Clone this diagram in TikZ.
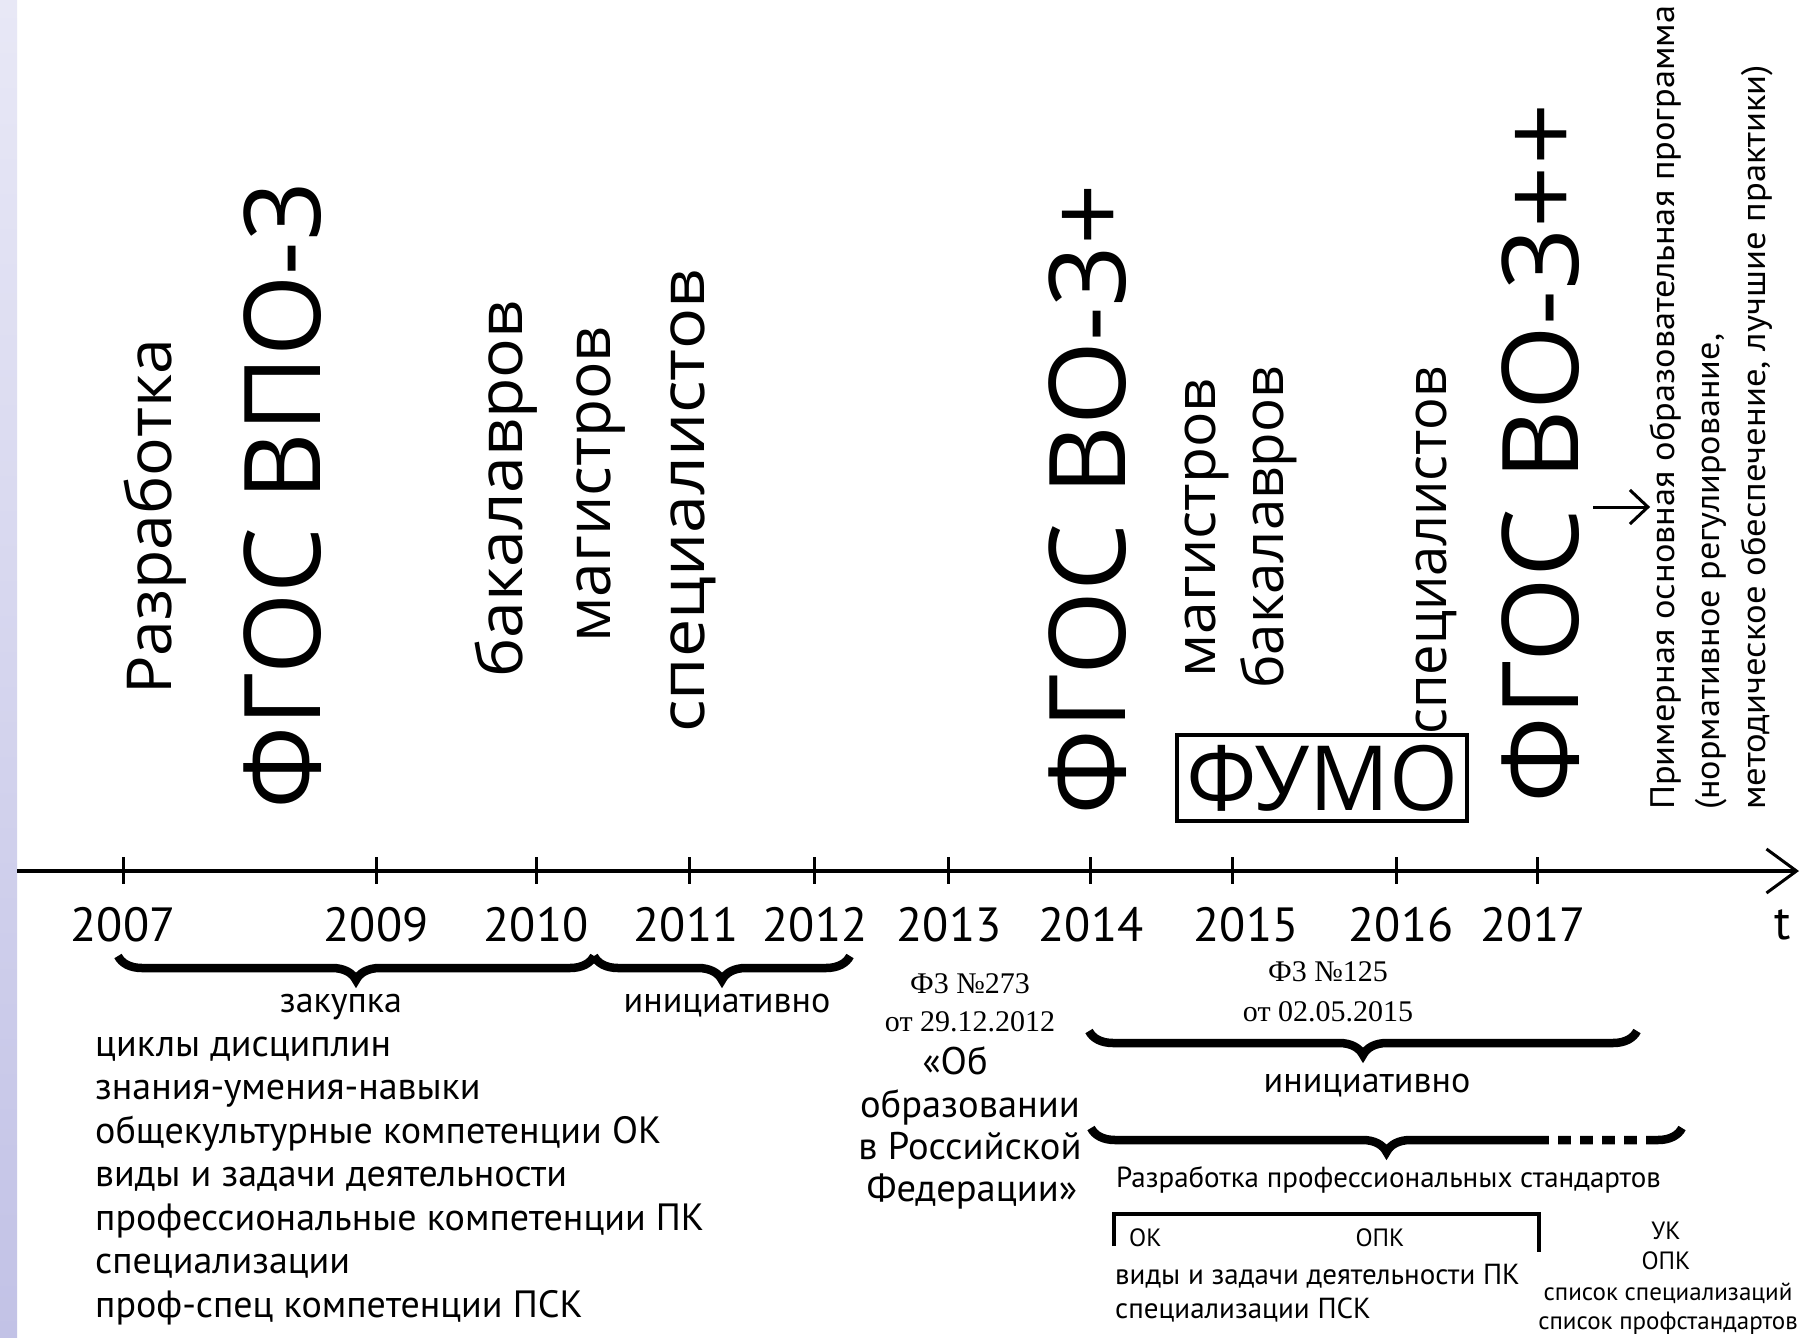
\documentclass[tikz,border=0pt]{standalone}
\usepackage{fontspec}
\usepackage{graphicx}
\setmainfont{Open Sans}
\newfontfamily\pts{PT Sans}
\newfontfamily\tms{Liberation Serif}
\usetikzlibrary{decorations.pathreplacing,arrows.meta}
\definecolor{lavA}{HTML}{E8E8F6}
\definecolor{lavB}{HTML}{C2C2E6}
\newcommand\fitto[2]{\resizebox{#1pt}{\height}{#2}}
\begin{document}
\begin{tikzpicture}[x=1pt,y=-1pt,
  rot/.style={rotate=90,anchor=west,inner sep=0pt},
  bigtxt/.style={rot,font=\fontsize{106}{106}\selectfont},
  midtxt/.style={rot,font=\fontsize{62}{62}\selectfont},
  midtxtr/.style={rot,font=\fontsize{56}{56}\selectfont},
  notetxt/.style={rot,font=\pts\fontsize{34}{34}\selectfont},
  yr/.style={inner sep=0pt,font=\pts\fontsize{48}{48}\selectfont},
  lst/.style={anchor=base west,inner sep=0pt,font=\pts\fontsize{38}{38}\selectfont},
  lbl/.style={inner sep=0pt,anchor=base,font=\pts\fontsize{36}{36}\selectfont},
  fed/.style={inner sep=0pt,anchor=base,font=\pts\fontsize{38.5}{38.5}\selectfont},
  sml/.style={inner sep=0pt,anchor=base,font=\pts\fontsize{29}{29}\selectfont},
  tiny/.style={inner sep=0pt,anchor=base,font=\pts\fontsize{25}{25}\selectfont},
  law/.style={inner sep=0pt,anchor=base,font=\tms\fontsize{30}{30}\selectfont},
  brc/.style={decorate,decoration={brace,mirror,amplitude=24pt},line width=8.5pt},
  tick/.style={line width=3pt}
]
\useasboundingbox (0,0) rectangle (1801,1338);
\fill[white] (0,0) rectangle (1801,1338);
\shade[top color=lavA,bottom color=lavB] (0,0) rectangle (17,1338);

% axis
\coordinate (ax0) at (17,871);
\coordinate (ax1) at (1799,871);
\draw[line width=3.5pt,-{Straight Barb[length=30pt,width=44pt,line width=3pt]}] (ax0) -- (ax1);
\foreach \x in {123,376,536,689,814,948,1090,1232,1396,1537}
  \draw[tick] (\x,857) -- (\x,884);

% years
\node[yr] (y07) at (123,925) {2007};
\node[yr] (y09) at (376,925) {2009};
\node[yr] (y10) at (536,925) {2010};
\node[yr] (y11) at (686,925) {2011};
\node[yr] (y12) at (815,925) {2012};
\node[yr] (y13) at (949,925) {2013};
\node[yr] (y14) at (1091,925) {2014};
\node[yr] (y15) at (1246,925) {2015};
\node[yr] (y16) at (1401,925) {2016};
\node[yr] (y17) at (1533,925) {2017};
\node[yr] (tt) at (1783,925) {t};

% top rotated texts
\node[midtxt] (razr) at (155,695) {\fitto{356}{Разработка}};
\node[bigtxt] (fgos1) at (283,810) {\fitto{628}{ФГОС ВПО-3}};
\node[midtxt] (bak1) at (506,678) {\fitto{377}{бакалавров}};
\node[midtxt] (mag1) at (601,643) {\fitto{316}{магистров}};
\node[midtxt] (spec1) at (693,733) {\fitto{463}{специалистов}};
\node[bigtxt] (fgos2) at (1088,816) {\fitto{632}{ФГОС ВО-3+}};
\node[midtxtr] (mag2) at (1207,678) {\fitto{299}{магистров}};
\node[midtxtr] (bak2) at (1269,689) {\fitto{322}{бакалавров}};
\node[midtxtr] (spec2) at (1436,735) {\fitto{368}{специалистов}};
\node[draw,line width=4pt,inner sep=0pt,minimum width=290pt,minimum height=86pt,
      font=\fontsize{90}{90}\selectfont] (fumo) at (1322,778) {\fitto{272}{ФУМО}};
\node[bigtxt] (fgos3) at (1541,804) {\fitto{700}{ФГОС ВО-3++}};
\node[notetxt] (poop1) at (1666,810) {\fitto{804}{Примерная основная образовательная программа}};
\node[notetxt] (poop2) at (1711,810) {\fitto{476}{(нормативное регулирование,}};
\node[notetxt] (poop3) at (1757,810) {\fitto{745}{методическое обеспечение, лучшие практики)}};
\coordinate (arr0) at (1593,507);
\draw[line width=3pt,-{Straight Barb[length=18pt,width=34pt,line width=3pt]}] (arr0) -- (poop1.north west |- arr0);

% left braces
\coordinate (b1a) at (118,956);
\coordinate (b1b) at (594,956);
\coordinate (b2b) at (850,956);
\draw[brc] (b1a) -- (b1b);
\draw[brc] (b1b) -- (b2b);
\node[lbl] (zak) at (341,1012) {закупка};
\node[lbl] (ini1) at (727,1012) {инициативно};

% left list
\node[lst] (l1) at (95,1056) {циклы дисциплин};
\node[lst] (l2) at (95,1099) {знания-умения-навыки};
\node[lst] (l3) at (95,1143) {общекультурные компетенции ОК};
\node[lst] (l4) at (95,1186) {виды и задачи деятельности};
\node[lst] (l5) at (95,1230) {профессиональные компетенции ПК};
\node[lst] (l6) at (95,1273) {специализации};
\node[lst] (l7) at (95,1317) {проф-спец компетенции ПСК};

% law 273
\node[law] (fz1) at (970,993) {Ф3 №273};
\node[law] (fz1d) at (970,1031) {от 29.12.2012};
\node[fed] (ob1) at (955,1074) {«Об};
\node[fed] (ob2) at (970,1117) {образовании};
\node[fed] (ob3) at (970,1159) {в Российской};
\node[fed] (ob4) at (972,1201) {Федерации»};

% law 125 and right braces
\node[law] (fz2) at (1328,981) {Ф3 №125};
\node[law] (fz2d) at (1328,1021) {от 02.05.2015};
\coordinate (b3a) at (1089,1031);
\coordinate (b3b) at (1637,1031);
\draw[brc] (b3a) -- (b3b);
\node[lbl] (ini2) at (1367,1092) {инициативно};
\coordinate (b4a) at (1091,1128);
\coordinate (b4b) at (1682,1128);
\draw[brc] (b4a) -- (b4b);
\foreach \g in {1549,1571,1593,1615,1637}
  \fill[white] (\g,1134) rectangle (\g+9,1160);
\node[sml,anchor=base west] (razps) at (1116,1187) {Разработка профессиональных стандартов};

% bracket and bottom right
\coordinate (k1) at (1114,1246);
\coordinate (k2) at (1114,1214);
\coordinate (k3) at (1539,1214);
\coordinate (k4) at (1539,1252);
\draw[line width=4pt] (k1) -- (k2) -- (k3) -- (k4);
\node[tiny,anchor=base west] (ok) at (1129,1246) {ОК};
\node[tiny] (opk) at (1380,1246) {ОПК};
\node[sml,anchor=base west] (vid) at (1115,1284) {виды и задачи деятельности ПК};
\node[sml,anchor=base west] (spk) at (1115,1318) {специализации ПСК};
\node[tiny] (uk) at (1666,1239) {УК};
\node[tiny] (opk2) at (1666,1269) {ОПК};
\node[tiny] (ssp) at (1668,1300) {список специализаций};
\node[tiny] (sps) at (1668,1329) {список профстандартов};
\end{tikzpicture}
\end{document}
